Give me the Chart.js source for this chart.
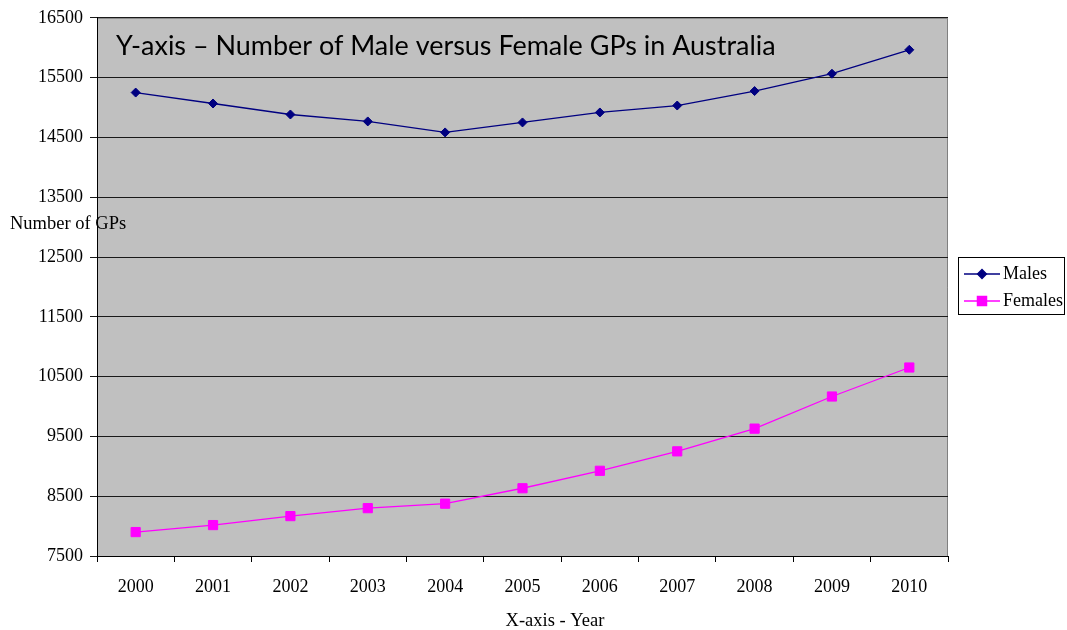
<!DOCTYPE html>
<html>
<head>
<meta charset="utf-8">
<script src="https://cdn.jsdelivr.net/npm/chart.js@4.4.1/dist/chart.umd.min.js"></script>
<style>
    html, body { margin: 0; padding: 0; background: #fff; }
    #wrap { width: 1067px; height: 630px; }
</style>
</head>
<body>
<div id="wrap"><canvas id="gpChart"></canvas></div>
<script>
// Years on the x axis
const years = ['2000', '2001', '2002', '2003', '2004', '2005', '2006', '2007', '2008', '2009', '2010'];

// Number of GPs
const males = [15250, 15067, 14883, 14767, 14583, 14750, 14917, 15033, 15275, 15565, 15965];
const females = [7900, 8017, 8167, 8300, 8375, 8633, 8925, 9250, 9630, 10167, 10652];

// Y axis tick values
const yTicks = [7500, 8500, 9500, 10500, 11500, 12500, 13500, 14500, 15500, 16500];

const chartTitle = 'Y-axis \u2013 Number of Male versus Female GPs in Australia';
const yTitle = 'Number of GPs';
const xTitle = 'X-axis - Year';

const serif = '"Liberation Serif", "Times New Roman", serif';

// gray plot background with light frame
const plotBackground = {
    id: 'plotBackground',
    beforeDraw(chart) {
        const { ctx, chartArea: a } = chart;
        ctx.save();
        ctx.fillStyle = '#C0C0C0';
        ctx.fillRect(a.left, a.top, a.right - a.left, a.bottom - a.top);
        ctx.strokeStyle = '#808080';
        ctx.lineWidth = 1;
        ctx.beginPath();
        ctx.moveTo(a.left, a.top + 0.5);
        ctx.lineTo(a.right - 0.5, a.top + 0.5);
        ctx.lineTo(a.right - 0.5, a.bottom);
        ctx.stroke();
        ctx.restore();
    }
};

// titles + legend box, drawn on top
const extraText = {
    id: 'extraText',
    afterDraw(chart) {
        const { ctx, chartArea: a } = chart;
        ctx.save();

        // title inside the plot, fitted to the original width
        let size = 28;
        ctx.font = size + 'px Lato, "Open Sans", sans-serif';
        size = size * 660 / ctx.measureText(chartTitle).width;
        ctx.font = size.toFixed(2) + 'px Lato, "Open Sans", sans-serif';
        ctx.fillStyle = '#000';
        ctx.textBaseline = 'alphabetic';
        ctx.textAlign = 'left';
        ctx.fillText(chartTitle, a.left + 19, 55);

        ctx.font = '18.5px ' + serif;
        ctx.textBaseline = 'middle';
        ctx.fillText(yTitle, 10, 224);
        ctx.textAlign = 'center';
        ctx.fillText(xTitle, 555, 621);

        // legend
        ctx.strokeStyle = '#000';
        ctx.lineWidth = 1;
        ctx.strokeRect(958.5, 257.5, 106, 57);
        chart.data.datasets.forEach((ds, i) => {
            const y = 274 + i * 27;
            ctx.strokeStyle = ds.borderColor;
            ctx.lineWidth = 1.3;
            ctx.beginPath();
            ctx.moveTo(964, y);
            ctx.lineTo(1000, y);
            ctx.stroke();
            ctx.fillStyle = ds.pointBackgroundColor;
            ctx.strokeStyle = ds.pointBorderColor;
            Chart.helpers.drawPoint(ctx, { pointStyle: ds.pointStyle, radius: ds.pointRadius, rotation: 0, borderWidth: 1 }, 982, y);
            ctx.fillStyle = '#000';
            ctx.textAlign = 'left';
            ctx.font = '18px ' + serif;
            ctx.fillText(ds.label, 1003, y);
        });
        ctx.restore();
    }
};

const ctx = document.getElementById('gpChart').getContext('2d');

new Chart(ctx, {
    type: 'line',
    data: {
        labels: years,
        datasets: [{
            label: 'Males',
            data: males,
            borderColor: '#000080',
            borderWidth: 1.3,
            pointStyle: 'rectRot',
            pointRadius: 4.5,
            pointBackgroundColor: '#000080',
            pointBorderColor: '#000080',
            pointBorderWidth: 1,
            tension: 0
        }, {
            label: 'Females',
            data: females,
            borderColor: '#FF00FF',
            borderWidth: 1.3,
            pointStyle: 'rect',
            pointRadius: 6.5,
            pointBackgroundColor: '#FF00FF',
            pointBorderColor: '#FF00FF',
            pointBorderWidth: 1,
            tension: 0
        }]
    },
    options: {
        responsive: true,
        maintainAspectRatio: false,
        animation: false,
        layout: {
            padding: { left: 0, right: 119, top: 16, bottom: 0 }
        },
        plugins: {
            legend: { display: false },
            tooltip: { enabled: false }
        },
        scales: {
            x: {
                type: 'category',
                offset: true,
                grid: {
                    offset: true,
                    drawOnChartArea: false,
                    drawTicks: true,
                    tickLength: 6,
                    color: '#000'
                },
                border: { color: '#000', width: 1 },
                ticks: {
                    color: '#000',
                    padding: 14,
                    maxRotation: 0,
                    autoSkip: false,
                    font: { family: serif, size: 18 }
                },
                afterFit(scale) { scale.height = 74; }
            },
            y: {
                min: 7500,
                max: 16500,
                afterBuildTicks(scale) {
                    scale.ticks = yTicks.map(v => ({ value: v }));
                },
                grid: {
                    color: '#1a1a1a',
                    lineWidth: 1,
                    tickLength: 7
                },
                border: { color: '#000', width: 1 },
                ticks: {
                    color: '#000',
                    padding: 7,
                    font: { family: serif, size: 18 },
                    callback: v => String(v)
                },
                afterFit(scale) { scale.width = 97; }
            }
        }
    },
    plugins: [plotBackground, extraText]
});
</script>
</body>
</html>
